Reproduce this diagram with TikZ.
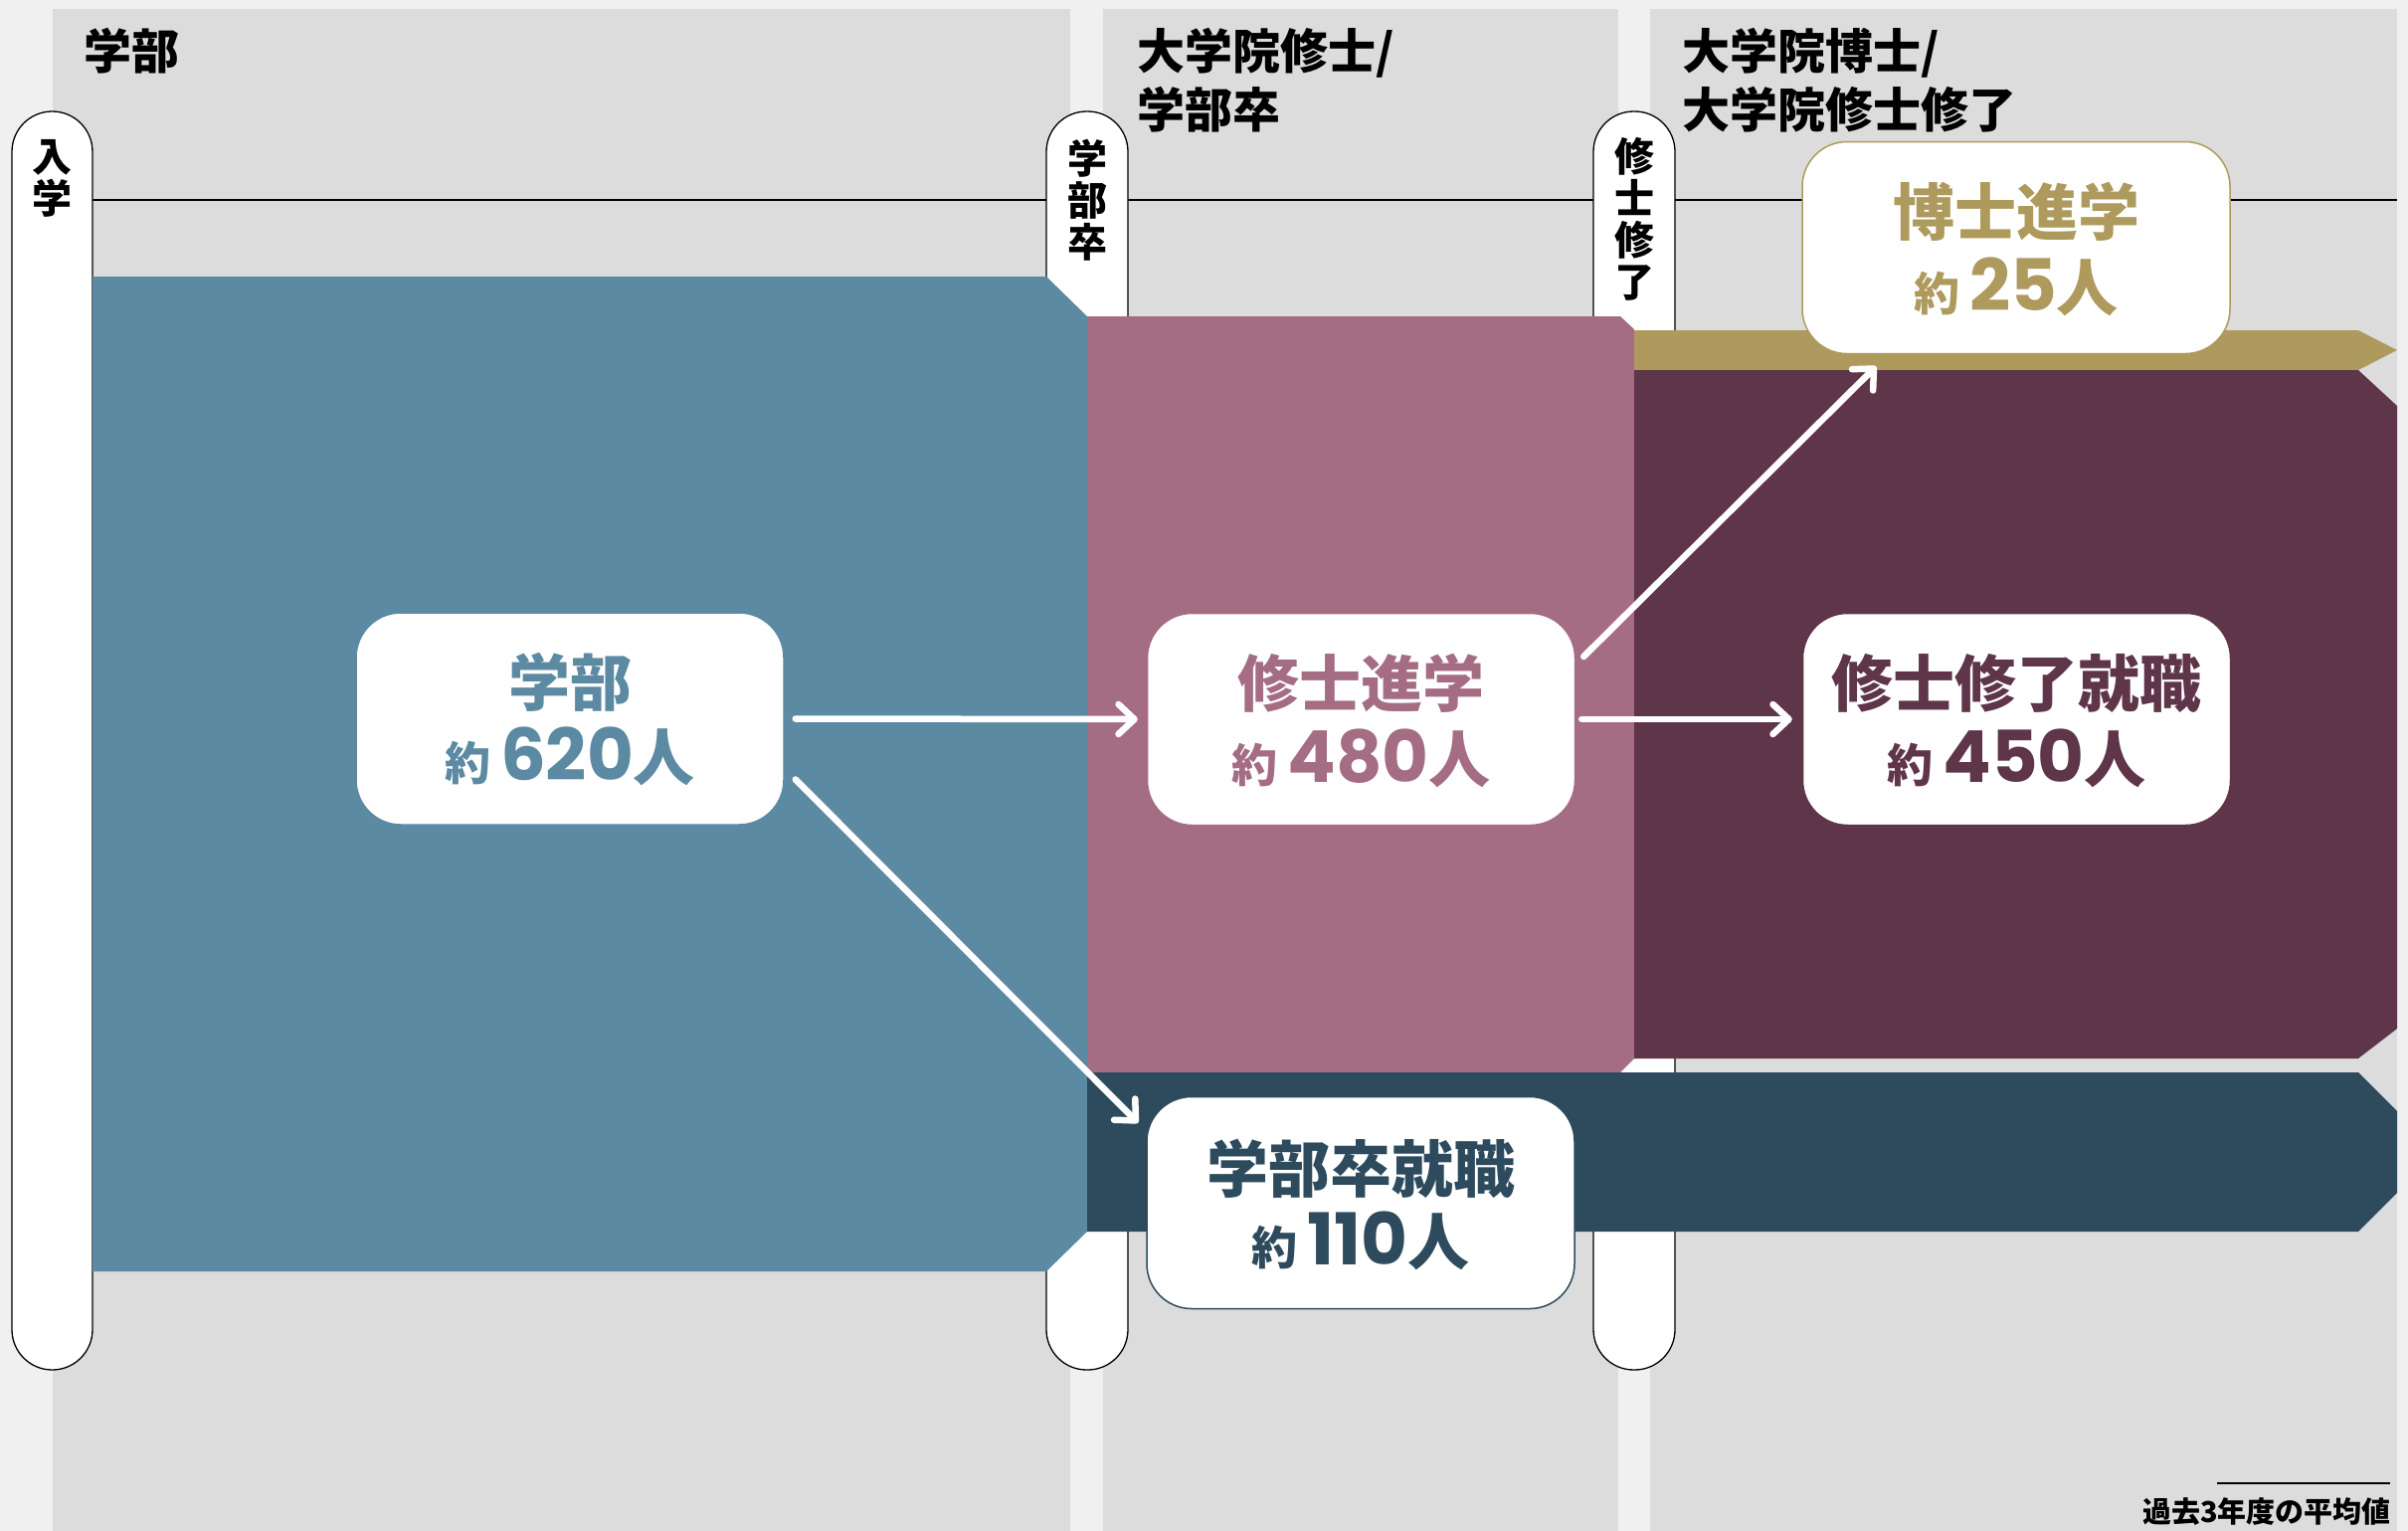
\documentclass[tikz,border=0pt]{standalone}
\usepackage{fontspec}
\newfontfamily\jp{Noto Sans CJK JP}
\newfontfamily\numf{Poppins}
\usetikzlibrary{arrows.meta,calc}
\definecolor{bgc}{HTML}{F0F0F0}
\definecolor{panelc}{HTML}{DCDCDC}
\definecolor{cblue}{HTML}{5C8AA3}
\definecolor{cpink}{HTML}{A56D84}
\definecolor{cpurple}{HTML}{5F3549}
\definecolor{cgold}{HTML}{AE9A5D}
\definecolor{cnavy}{HTML}{2E4B5E}
\newcommand{\Lone}[1]{{\jp\bfseries\fontsize{62}{62}\selectfont #1}}
\newcommand{\Ltwo}[1]{{\jp\bfseries\fontsize{46}{46}\selectfont 約}\hspace{10pt}{\numf\bfseries\fontsize{72}{72}\selectfont #1}{\jp\bfseries\fontsize{62}{62}\selectfont 人}}
\tikzset{
  panel/.style={fill=panelc, draw=none},
  capsule/.style={draw=black, line width=1.3pt, fill=white, rounded corners=40.5pt},
  hdr/.style={anchor=north west, inner sep=0pt, align=left, font=\jp\bfseries\fontsize{48}{59}\selectfont},
  captext/.style={anchor=north, inner sep=0pt, align=center, font=\jp\bfseries\fontsize{40}{42}\selectfont},
  box/.style={fill=white, rounded corners=45pt, minimum width=430pt, minimum height=213pt, line width=1.5pt, inner sep=0pt},
  boxtext/.style={anchor=base, inner sep=0pt},
  arr/.style={draw=white, line width=6.5pt, line cap=round, -{Straight Barb[round,length=16pt,width=30pt]}}
}
\begin{document}
\begin{tikzpicture}[x=1pt,y=-1pt]
\useasboundingbox (0,0) rectangle (2421,1539);
\fill[bgc] (0,0) rectangle (2421,1539);
% column panels
\fill[panel] (53,9) rectangle (1076,1539);
\fill[panel] (1109,9) rectangle (1627,1539);
\fill[panel] (1659,9) rectangle (2410,1539);
% headers
\node[hdr] (h1) at (84,28) {学部};
\node[hdr] (h2) at (1143,28) {大学院修士/\\学部卒};
\node[hdr] (h3) at (1691,28) {大学院博士/\\大学院修士修了};
% time line
\draw[line width=1.5pt] (93,201) -- (2410,201);
% milestone capsules
\draw[capsule] (12,112) rectangle (93,1377);
\draw[capsule] (1052,112) rectangle (1134,1377);
\draw[capsule] (1602,112) rectangle (1684,1377);
\node[captext] (c1) at (52.5,140) {入\\学};
\node[captext] (c2) at (1093,140) {学\\部\\卒};
\node[captext] (c3) at (1643,138) {修\\士\\修\\了};
% flows
\fill[cblue] (93,278) -- (1052,278) -- (1093,318) -- (1093,1238) -- (1052,1278) -- (93,1278) -- cycle;
\fill[cpink] (1093,318) -- (1629,318) -- (1643,331) -- (1643,1064) -- (1629,1078) -- (1093,1078) -- cycle;
\fill[cgold] (1643,332) -- (2371,332) -- (2410,352) -- (2371,372) -- (1643,372) -- cycle;
\fill[cpurple] (1643,372) -- (2371,372) -- (2410,408) -- (2410,1034) -- (2371,1064) -- (1643,1064) -- cycle;
\fill[cnavy] (1093,1078) -- (2371,1078) -- (2410,1117) -- (2410,1199) -- (2371,1238) -- (1093,1238) -- cycle;
% boxes
\node[box, draw=cblue] (bu) at (573,722.5) {};
\node[box, draw=cpink] (ms) at (1368.5,723) {};
\node[box, draw=cpurple] (mj) at (2027.5,723) {};
\node[box, draw=cgold] (dr) at (2027,249) {};
\node[box, draw=cnavy] (bj) at (1368,1209) {};
% box texts
\node[boxtext, text=cblue] (bu1) at ($(bu.center)+(0,-13)$) {\Lone{学部}};
\node[boxtext, text=cblue] (bu2) at ($(bu.center)+(0,62)$) {\Ltwo{620}};
\node[boxtext, text=cpink] (ms1) at ($(ms.center)+(0,-13)$) {\Lone{修士進学}};
\node[boxtext, text=cpink] (ms2) at ($(ms.center)+(0,63)$) {\Ltwo{480}};
\node[boxtext, text=cpurple] (mj1) at ($(mj.center)+(0,-13)$) {\Lone{修士修了就職}};
\node[boxtext, text=cpurple] (mj2) at ($(mj.center)+(0,63)$) {\Ltwo{450}};
\node[boxtext, text=cgold] (dr1) at ($(dr.center)+(0,-13)$) {\Lone{博士進学}};
\node[boxtext, text=cgold] (dr2) at ($(dr.center)+(0,63)$) {\Ltwo{25}};
\node[boxtext, text=cnavy] (bj1) at ($(bj.center)+(0,-11)$) {\Lone{学部卒就職}};
\node[boxtext, text=cnavy] (bj2) at ($(bj.center)+(0,62)$) {\Ltwo{110}};
% arrows
\draw[arr] ($(bu.east)+(11,0)$) -- ($(ms.west)+(-9,0)$);
\draw[arr] ($(bu.east)+(11,61)$) -- ($(bj.north west)+(-8,27)$);
\draw[arr] ($(ms.east)+(6,0)$) -- ($(mj.west)+(-10,0)$);
\draw[arr] ($(ms.east)+(8,-63)$) -- ($(dr.south west)+(75,12)$);
% footnote
\node[anchor=base east, inner sep=0pt, font=\jp\bfseries\fontsize{29}{29}\selectfont] (note) at (2404,1530) {過去3年度の平均値};
\draw[line width=1.5pt] (2229,1491) -- (2403,1491);
\end{tikzpicture}
\end{document}
